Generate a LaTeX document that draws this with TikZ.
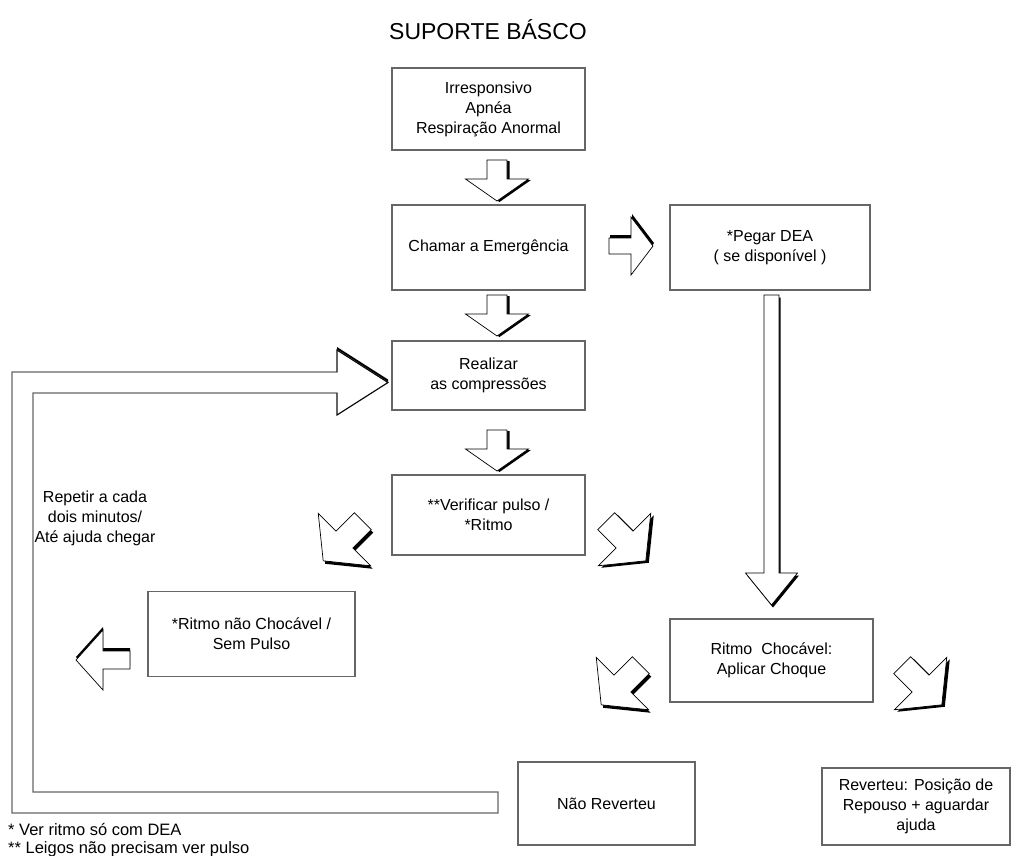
\documentclass[tikz,border=0pt]{standalone}
\usepackage{fontspec}
\setmainfont{Liberation Sans}
\newcommand{\BArr}[9]{%
  \fill[black, shift={({#1+(#8)},{#2+(#9)})}, rotate=#3] (-#4/2,-#6) -- (#4/2-#5,-#6) -- (#4/2-#5,-#7) -- (#4/2,0) -- (#4/2-#5,#7) -- (#4/2-#5,#6) -- (-#4/2,#6) -- cycle;
  \filldraw[fill=white, draw=black, line width=0.7pt, line join=miter, shift={(#1,#2)}, rotate=#3] (-#4/2,-#6) -- (#4/2-#5,-#6) -- (#4/2-#5,-#7) -- (#4/2,0) -- (#4/2-#5,#7) -- (#4/2-#5,#6) -- (-#4/2,#6) -- cycle;
}
\begin{document}
\begin{tikzpicture}[x=1pt,y=-1pt,
  box/.style={draw=black!60, line width=1.3pt, fill=white, align=center,
    font=\fontsize{16}{20}\selectfont, inner sep=0pt},
  plain/.style={align=center, font=\fontsize{16}{20}\selectfont, inner sep=0pt},
  foot/.style={anchor=base west, font=\fontsize{16.5}{19}\selectfont, inner sep=0pt},
  loopline/.style={draw=black!60, line width=1.2pt, fill=white}
]
\useasboundingbox (0,0) rectangle (1017,855);
\fill[white] (0,0) rectangle (1017,855);

\node[font=\fontsize{23}{27}\selectfont, inner sep=0pt] (title) at (488,30) {SUPORTE BÁSCO};

\node[box, minimum width=193, minimum height=82] (b1) at (488.5,109) {Irresponsivo\\Apnéa\\Respiração Anormal};
\node[box, minimum width=193, minimum height=85] (b2) at (488.5,247.5) {Chamar a Emergência};
\node[box, minimum width=200, minimum height=85] (b3) at (770,247.5) {*Pegar DEA\\( se disponível )};
\node[box, minimum width=193, minimum height=69] (b4) at (488.5,375.5) {Realizar\\as compressões};
\node[box, minimum width=193, minimum height=80] (b5) at (488.5,515) {**Verificar pulso /\\*Ritmo};
\node[box, minimum width=207, minimum height=85] (b6) at (251.5,634) {*Ritmo não Chocável /\\Sem Pulso};
\node[box, minimum width=203, minimum height=83] (b7) at (771.5,660.5) {Ritmo\ \ Chocável:\\Aplicar Choque};
\node[box, minimum width=177, minimum height=83] (b8) at (606.5,803.5) {Não Reverteu};
\node[box, minimum width=188, minimum height=77] (b9) at (916,806.5) {Reverteu: Posição de\\Repouso + aguardar\\ajuda};

\node[plain] (rep) at (95,518) {Repetir a cada\\dois minutos/\\Até ajuda chegar};
\node[foot] (n1) at (8,835) {* Ver ritmo só com DEA};
\node[foot] (n2) at (8,853) {** Leigos não precisam ver pulso};

% loop arrow back to the compressions box
\fill[black] (337,347) -- (388,379.5) -- (388,382.5) -- (337,350) -- cycle;
\path[loopline] (498,813) -- (12,813) -- (12,372) -- (337,372) -- (337,350) -- (388,382.5) -- (337,415) -- (337,393) -- (33,393) -- (33,792) -- (498,792) -- cycle;
\draw[black, line width=0.8pt] (337,372) -- (337,350) -- (388,382.5) -- (337,415) -- (337,393);

% block arrows
\BArr{497}{180.5}{-90}{41}{22}{10}{31.5}{2.5}{1}
\BArr{497}{315.5}{-90}{41}{22}{10}{31.5}{2.5}{1}
\BArr{497}{450.5}{-90}{41}{22}{10}{31.5}{2.5}{1}
\BArr{631}{246}{0}{44}{22}{8}{29}{1}{-3}
\BArr{771.5}{450}{-90}{310}{32}{7.5}{26}{1.5}{2.5}
\BArr{103}{660}{180}{54}{27}{9}{30}{0}{-3}
\BArr{343}{541}{-135}{56}{30}{12}{37}{2}{3}
\BArr{626}{541}{-45}{56}{30}{12}{37}{3}{2}
\BArr{621}{685}{-135}{56}{30}{12}{37}{2}{3}
\BArr{922}{685}{-45}{56}{30}{12}{37}{3}{2}
\end{tikzpicture}
\end{document}
